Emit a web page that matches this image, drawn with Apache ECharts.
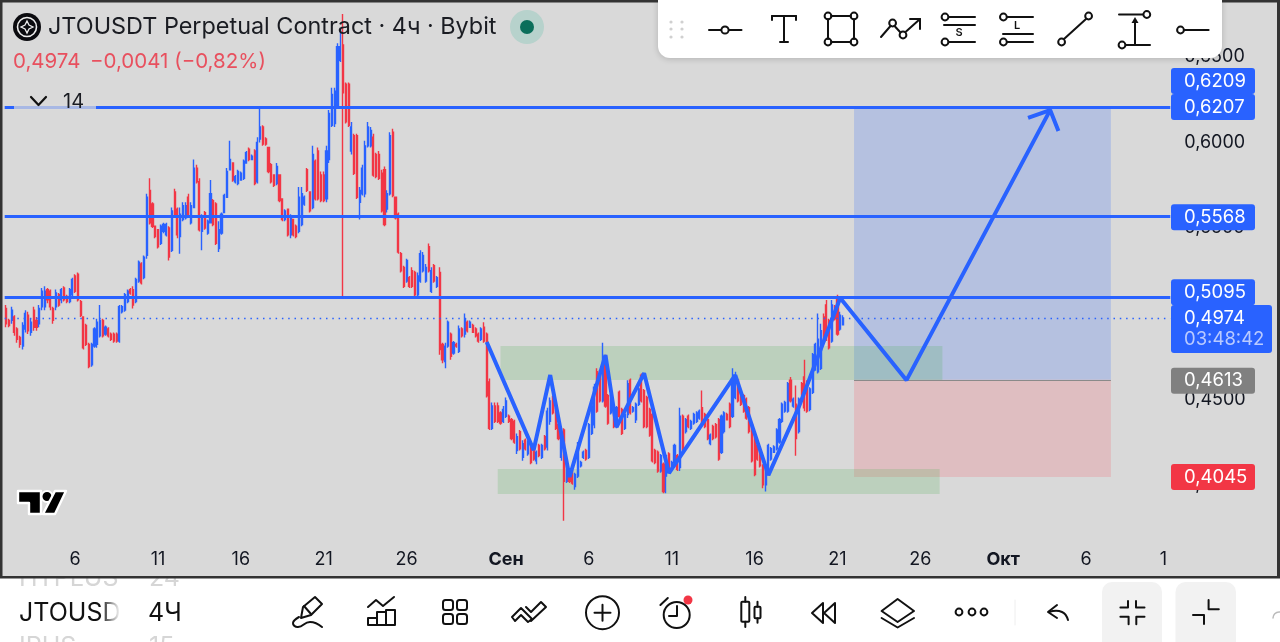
<!DOCTYPE html>
<html><head><meta charset="utf-8">
<style>html,body{margin:0;padding:0;background:#fff}#c{width:1280px;height:642px}</style>
<script src="https://cdn.jsdelivr.net/npm/echarts@6/dist/echarts.min.js"></script>
</head><body><div id="c"></div>
<script>
// candles as [open, close, low, high] (4h bars)
const candlesEarlyAug = [
[.503,.494,.492,.505],[.496,.493,.492,.497],[.496,.502,.494,.504],[.498,.489,.487,.499],[.491,.485,.483,.492],[.486,.482,.480,.487],
[.481,.493,.479,.495],[.491,.500,.489,.502],[.499,.490,.488,.501],[.489,.495,.487,.497],[.502,.492,.490,.504],[.496,.492,.490,.498],
[.494,.503,.492,.505],[.504,.513,.502,.515],[.504,.513,.502,.516],[.514,.508,.506,.515],[.513,.504,.502,.514],[.503,.496,.494,.504],
[.504,.512,.502,.514],[.511,.505,.504,.512],[.508,.514,.506,.515],[.515,.508,.507,.516],[.510,.507,.506,.511],[.507,.514,.506,.515],
[.511,.520,.510,.521],[.522,.513,.512,.523],[.523,.508,.507,.524],[.507,.499,.498,.508],[.498,.480,.479,.498],[.493,.482,.481,.494],
[.482,.469,.468,.483],[.470,.482,.469,.483],[.481,.491,.480,.492],[.482,.495,.480,.497],[.487,.496,.486,.505],[.496,.487,.486,.497],
[.488,.492,.487,.493],[.491,.487,.486,.492],[.488,.485,.484,.489],[.488,.484,.483,.489],[.488,.484,.483,.489],[.484,.504,.483,.505],
[.501,.504,.500,.505],[.502,.511,.501,.512],[.507,.513,.506,.514],[.514,.512,.511,.515],[.514,.505,.503,.516],[.507,.520,.506,.521],
[.519,.530,.518,.531],[.529,.518,.517,.530],[.521,.533,.520,.534]];
const candlesMidAug = [
[.534,.568,.532,.570],[.572,.553,.552,.579],[.564,.551,.550,.565],[.551,.545,.544,.551],[.549,.539,.538,.549],[.541,.551,.540,.552],
[.548,.552,.547,.553],[.546,.552,.545,.553],[.550,.533,.531,.551],[.537,.560,.536,.562],[.571,.558,.557,.573],[.561,.546,.544,.562],
[.545,.558,.535,.562],[.555,.563,.554,.565],[.556,.563,.555,.565],[.568,.558,.557,.570],[.553,.563,.552,.565],[.562,.585,.562,.590],
[.585,.577,.576,.587],[.577,.549,.548,.579],[.548,.556,.537,.558],[.559,.550,.549,.560],[.547,.554,.546,.555],[.553,.570,.553,.578],
[.566,.552,.551,.567],[.564,.541,.540,.565],[.538,.549,.536,.554],[.547,.558,.546,.559],[.559,.569,.559,.570],[.568,.583,.568,.585],
[.584,.590,.584,.601],[.588,.578,.577,.588],[.577,.580,.576,.581],[.576,.583,.575,.584],[.578,.582,.578,.583],[.579,.589,.578,.590],
[.588,.594,.588,.595],[.596,.590,.589,.597],[.590,.592,.590,.593],[.595,.576,.575,.596],[.577,.600,.576,.603],[.602,.609,.600,.621],
[.609,.599,.598,.610],[.602,.599,.598,.603],[.597,.583,.582,.597],[.587,.577,.576,.588],[.581,.575,.574,.581],[.576,.586,.575,.588],
[.581,.566,.565,.581],[.567,.555,.554,.567],[.555,.560,.554,.561],[.561,.546,.545,.561],[.546,.556,.544,.558],[.555,.546,.545,.555],
[.551,.545,.544,.552],[.548,.568,.547,.574]];
const candlesLateAug = [
[.552,.570,.551,.574],[.564,.568,.563,.569],[.584,.572,.571,.585],[.571,.560,.559,.571],[.562,.593,.561,.598],[.589,.567,.566,.590],
[.595,.567,.566,.597],[.581,.566,.565,.583],[.581,.566,.565,.583],[.567,.595,.565,.598],[.590,.617,.588,.619],[.610,.628,.609,.632],
[.611,.630,.609,.632],[.621,.656,.620,.658],[.648,.656,.647,.667],[.657,.629,.5095,.675],[.634,.612,.611,.635],[.634,.610,.609,.635],
[.595,.609,.593,.612],[.604,.582,.581,.605],[.604,.568,.567,.605],[.565,.572,.555,.574],[.570,.585,.569,.587],[.570,.598,.568,.601],
[.598,.609,.597,.612],[.598,.607,.597,.609],[.603,.581,.580,.605],[.593,.580,.579,.594],[.593,.579,.578,.595],[.582,.560,.559,.584],
[.584,.552,.551,.586],[.561,.570,.559,.572],[.570,.604,.569,.606],[.606,.569,.568,.608],[.568,.556,.555,.568],[.558,.536,.535,.559],
[.535,.525,.524,.536],[.527,.516,.515,.528],[.519,.531,.518,.532],[.521,.516,.515,.522],[.525,.516,.515,.527],[.524,.511,.510,.525],
[.511,.522,.510,.524],[.519,.535,.518,.537],[.525,.534,.524,.536],[.519,.527,.518,.529],[.539,.525,.524,.541],[.513,.525,.512,.527],
[.528,.519,.518,.529],[.516,.521,.515,.522],[.524,.479,.476,.527]];
const candlesEarlySep = [
[.482,.473,.471,.483],[.472,.481,.468,.483],[.481,.495,.480,.496],[.488,.475,.473,.489],[.477,.483,.476,.484],[.482,.481,.480,.483],
[.478,.491,.477,.493],[.491,.487,.486,.492],[.488,.497,.486,.500],[.495,.490,.489,.496],[.492,.495,.492,.496],[.493,.489,.489,.494],
[.491,.487,.486,.492],[.488,.484,.483,.489],[.485,.491,.484,.492],[.492,.484,.483,.495],[.488,.452,.451,.489],[.460,.433,.432,.462],
[.433,.446,.432,.448],[.446,.437,.436,.448],[.446,.437,.436,.448],[.442,.436,.435,.443],[.437,.444,.436,.446],[.440,.449,.439,.451],
[.440,.437,.436,.441],[.438,.427,.426,.439],[.437,.425,.424,.438],[.420,.428,.418,.430],[.431,.421,.420,.432],[.416,.424,.414,.426],
[.426,.421,.420,.427],[.418,.425,.417,.426],[.424,.413,.412,.425],[.420,.415,.414,.421],[.414,.419,.412,.420],[.423,.417,.416,.424],
[.416,.423,.415,.424],[.428,.421,.420,.429],[.422,.443,.420,.445],[.437,.449,.435,.451],[.451,.442,.441,.452],[.444,.433,.432,.445],
[.435,.427,.426,.436],[.416,.431,.414,.433],[.432,.402,.379,.433],[.402,.411,.401,.412],[.409,.402,.401,.409],[.408,.401,.400,.408],
[.399,.406,.397,.407],[.405,.423,.404,.425],[.411,.413,.410,.414],[.416,.419,.415,.420],[.420,.415,.414,.421],[.416,.435,.415,.436],
[.430,.446,.429,.448],[.435,.457,.433,.459],[.466,.443,.442,.468]];
const candlesMidSep = [
[.466,.449,.448,.467],[.449,.472,.448,.483],[.475,.446,.445,.476],[.452,.436,.435,.453],[.442,.452,.441,.453],[.445,.434,.433,.446],
[.434,.445,.433,.446],[.454,.440,.439,.455],[.444,.430,.429,.445],[.433,.441,.432,.442],[.441,.459,.439,.461],[.461,.442,.441,.462],
[.443,.445,.442,.446],[.438,.447,.436,.448],[.447,.456,.446,.457],[.464,.449,.448,.465],[.455,.434,.433,.456],[.451,.434,.433,.452],
[.444,.429,.428,.445],[.441,.414,.413,.442],[.420,.413,.412,.421],[.419,.408,.407,.420],[.408,.417,.407,.418],[.412,.396,.395,.413],
[.405,.417,.395,.418],[.418,.408,.407,.419],[.410,.413,.409,.414],[.413,.423,.412,.424],[.417,.409,.408,.418],[.410,.440,.408,.445],
[.440,.421,.420,.441],[.431,.438,.430,.439],[.440,.434,.433,.441],[.433,.437,.432,.438],[.436,.441,.435,.442],[.437,.442,.436,.443],[.439,.443,.438,.444],
[.445,.437,.436,.455],[.441,.434,.433,.442],[.438,.427,.426,.439],[.424,.429,.423,.430],[.434,.427,.426,.435],[.435,.428,.427,.436],
[.438,.415,.414,.439],[.419,.440,.418,.441],[.431,.442,.430,.443],[.441,.438,.438,.442],[.447,.434,.433,.448],[.440,.462,.439,.468],
[.451,.463,.450,.466],[.461,.449,.448,.462],[.453,.447,.446,.454],[.452,.443,.442,.453],[.450,.439,.438,.451],[.445,.431,.430,.446],
[.435,.414,.413,.436],[.427,.406,.405,.428],[.423,.415,.414,.424],[.419,.411,.410,.420],[.411,.400,.398,.412],[.400,.410,.396,.411]];
const candlesLateSep = [
[.408,.423,.407,.424],[.415,.421,.414,.422],[.419,.422,.419,.423],[.421,.432,.420,.433],[.425,.438,.424,.439],[.437,.447,.436,.448],
[.443,.448,.442,.449],[.443,.459,.442,.460],[.461,.449,.448,.463],[.446,.450,.445,.451],[.447,.427,.417,.458],[.431,.450,.430,.451],
[.459,.453,.452,.460],[.463,.445,.443,.473],[.460,.443,.442,.461],[.444,.456,.443,.457],[.454,.476,.453,.477],[.467,.482,.467,.483],
[.466,.485,.465,.500],[.468,.490,.467,.494],[.498,.484,.483,.500],[.505,.485,.484,.508],[.496,.480,.479,.497],[.484,.505,.483,.508],
[.504,.497,.496,.505],[.509,.488,.487,.511],[.491,.499,.490,.501],[.4935,.4974,.493,.499]];

const SLOT_COUNT = 422;
const tickSlots  = [25,55,85,115,145,181,211,241,271,301,331,361,391,419];
const tickLabels = ['6','11','16','21','26','Сен','6','11','16','21','26','Окт','6','1'];
const boldTicks  = ['Сен','Окт'];
const yTicksHidden = [0.35];

const levelSolid = [0.6207, 0.5568, 0.5095];
const lastPrice  = 0.4974;
const zigzagSlots  = [174,191,197,204,217,221,231,240,264,276,287,302,326,378];
const zigzagPrices = [.4834,.4202,.4641,.4045,.4758,.4337,.4652,.4068,.4641,.4056,.4454,.5091,.4611,.6189];
const arrowSlots  = [370,378,381];
const arrowPrices = [.6143,.6189,.6067];
const greenZones = [[179,339,.4810,.4612],[178,338,.4092,.3946]];
const longZone   = [307,400,.6207,.4613];
const shortZone  = [307,400,.4613,.4045];
const priceTags = [
  {t:'0,6209',v:.6207,dy:-26,c:'#2962ff'},{t:'0,6207',v:.6207,dy:0,c:'#2962ff'},
  {t:'0,5568',v:.5568,dy:1,c:'#2962ff'},{t:'0,5095',v:.5095,dy:-5,c:'#2962ff'},
  {t:'0,4613',v:.4613,dy:1,c:'#808080'},{t:'0,4045',v:.4045,dy:0,c:'#f23645'}];

const candles = [].concat(candlesEarlyAug,candlesMidAug,candlesLateAug,candlesEarlySep,candlesMidSep,candlesLateSep);
const categories = Array.from({length:SLOT_COUNT},(_,i)=>String(i));
const BLUE='#2962ff', RED='#f23645', INK='#131722', FF='Inter, "Noto Sans", sans-serif';

const chart = echarts.init(document.getElementById('c'),null,{renderer:'canvas'});
const area=(z,c)=>[{xAxis:z[0],yAxis:z[2],itemStyle:{color:c}},{xAxis:z[1],yAxis:z[3]}];
chart.setOption({
  animation:false, backgroundColor:'#d9d9d9',
  grid:{left:4.7,top:5.5,width:1165.6,height:564.8},
  xAxis:{type:'category',data:categories,boundaryGap:true,
    axisLine:{show:false},axisTick:{show:false},splitLine:{show:false},
    axisLabel:{interval:i=>tickSlots.includes(i),margin:-20,fontFamily:FF,fontSize:18,color:INK,hideOverlap:false,
      formatter:(v)=>{const k=tickSlots.indexOf(+v); if(k<0)return ''; const s=tickLabels[k]; return boldTicks.includes(s)?'{b|'+s+'}':s;},
      rich:{b:{fontWeight:'bold',fontFamily:FF,fontSize:18,color:INK}}}},
  yAxis:{type:'value',position:'right',min:.35,max:.68,interval:.05,
    axisLine:{show:false},axisTick:{show:false},splitLine:{show:false},
    axisLabel:{margin:14,fontFamily:FF,fontSize:18,color:INK,showMaxLabel:false,
      formatter:v=>yTicksHidden.some(h=>Math.abs(h-v)<1e-6)?'':v.toFixed(4).replace('.',',')}},
  series:[
   {type:'candlestick',data:candles,barWidth:1.6,z:3,
    itemStyle:{color:BLUE,color0:RED,borderColor:BLUE,borderColor0:RED,borderWidth:1.4}},
   {type:'line',name:'zones',data:[],z:2,
    markArea:{silent:true,data:[area(longZone,'rgba(41,98,255,.2)'),area(shortZone,'rgba(255,60,80,.17)'),
      area(greenZones[0],'rgba(76,175,80,.2)'),area(greenZones[1],'rgba(76,175,80,.2)')]},
    markLine:{silent:true,symbol:'none',precision:4,label:{show:false},
      data:[[{xAxis:longZone[0],yAxis:longZone[3],lineStyle:{color:'#8a8a8a',width:1,type:'solid'}},{xAxis:longZone[1],yAxis:longZone[3]}]]}},
   {type:'line',name:'levels',data:[],z:6,
    markLine:{silent:true,symbol:'none',precision:4,label:{show:false},animation:false,
      data:levelSolid.map(v=>({yAxis:v,lineStyle:{color:BLUE,width:3,type:'solid'}}))
        .concat([{yAxis:lastPrice,lineStyle:{color:BLUE,width:1.4,type:[1.5,4.8]}}])}},
   {type:'line',name:'zigzag',z:7,symbol:'none',silent:true,
    data:zigzagSlots.map((s,i)=>[s,zigzagPrices[i]]),lineStyle:{color:BLUE,width:4}},
   {type:'line',name:'arrow',z:7,symbol:'none',silent:true,
    data:arrowSlots.map((s,i)=>[s,arrowPrices[i]]),lineStyle:{color:BLUE,width:4}}
  ]
});

const Z=50;
const st=(w,c)=>({stroke:c||'#111',lineWidth:w==null?2:w,fill:'none',lineCap:'round',lineJoin:'round'});
const L=(a,b,c,d,w,col)=>({type:'line',z:Z,silent:true,shape:{x1:a,y1:b,x2:c,y2:d},style:st(w,col)});
const C=(x,y,r,w,col,fill)=>({type:'circle',z:Z,silent:true,shape:{cx:x,cy:y,r},style:Object.assign(st(w,col),{fill:fill||'none'},w===0?{stroke:'none'}:{})});
const R=(x,y,w,h,r,fill,extra,z)=>({type:'rect',z:z||Z,silent:true,shape:{x,y,width:w,height:h,r},style:Object.assign({fill},extra||{})});
const RS=(x,y,w,h,r,lw)=>({type:'rect',z:Z,silent:true,shape:{x,y,width:w,height:h,r},style:st(lw||2)});
const P=(pts,w,col,smooth)=>({type:'polyline',z:Z,silent:true,shape:{points:pts,smooth:smooth||0},style:st(w,col)});
const G=(pts,fill,extra)=>({type:'polygon',z:Z,silent:true,shape:{points:pts},style:Object.assign({fill},extra||{})});
const T=(x,y,text,size,fill,o)=>({type:'text',z:Z+1,silent:true,x,y,style:Object.assign({text,fill:fill||INK,font:`${(o&&o.w)||400} ${size}px ${FF}`,textAlign:(o&&o.a)||'left',textVerticalAlign:'middle'})});

const g=[];
// price tags
priceTags.forEach(p=>{const y=chart.convertToPixel({yAxisIndex:0},p.v)+p.dy;
  g.push(R(1171,y-13,84,26,3,p.c)); g.push(T(1184,y,p.t,18.5,'#fff'));});
{const y=chart.convertToPixel({yAxisIndex:0},lastPrice);
 g.push(R(1171,y-13,101,48,3,BLUE)); g.push(T(1184,y,'0,4974',18.5,'#fff')); g.push(T(1184,y+21,'03:48:42',18.5,'#b9caff'));}
// header
g.push(C(27,27,14,0,'#000','#0b0b0f'));
g.push(C(27,27,9.5,1.6,'#eee'));
g.push(G([[27,21],[29,25],[33,27],[29,29],[27,33],[25,29],[21,27],[25,25]],'none',{stroke:'#eee',lineWidth:1.3}));
g.push(T(48,26.5,'JTOUSDT Perpetual Contract · 4ч · Bybit',23.4,'#1a1c22'));
g.push(C(527,27,17,0,'#000','#b7d2cc')); g.push(C(527,27,7,0,'#000','#0b6e5a'));
g.push(T(13,62,'0,4974',20.5,'#e8505e')); g.push(T(90,62,'−0,0041 (−0,82%)',20.5,'#e8505e'));
g.push(R(14,104,82,6,0,'rgba(217,217,217,.72)'));
g.push(P([[31,97],[38.5,105],[46,97]],2.2,'#111')); g.push(T(63,102,'14',20,'#1a1c22'));
// watermark
const wm={stroke:'#fff',lineWidth:2.4,lineJoin:'round'};
g.push(G([[18,491],[41,491],[41,514],[29,514],[29,503],[18,503]],'#000',wm));
g.push(C(47,496.5,5.5,2,'#fff','#000'));
g.push(G([[55,491],[66,491],[55,514],[43,514]],'#000',wm));
// top toolbar
g.push(R(658,-12,564,70,12,'#fff',{shadowBlur:6,shadowColor:'rgba(0,0,0,.18)',shadowOffsetY:1}));
[671,682].forEach(x=>[22,29,37].forEach(y=>g.push(C(x,y,1.6,0,'#000','#d0d0d0'))));
g.push(L(709,30,721,30,2),L(729,30,741.5,30,2),C(725,30,3.6,2));
g.push(L(772,16,796,16,2),L(772,16,772,20,2),L(796,16,796,20,2),L(784,16,784,42,2),L(780,42,788,42,2));
g.push(L(831,16,851,16,2),L(831,42,851,42,2),L(828,19,828,39,2),L(854,19,854,39,2));
[[828,16],[854,16],[828,42],[854,42]].forEach(c=>g.push(C(c[0],c[1],3.4,2)));
g.push(L(881,37,890.5,26,2),L(895,26.5,900.5,32.5,2),L(905.5,32,920,19,2),P([[910,19],[920,19],[920,29]],2));
g.push(C(892.6,23,3.4,2),C(903,35,3.4,2));
g.push(L(949,17,975,17,2),L(944,25,975,25,2),L(949,42,975,42,2),C(945,17,3.4,2),C(945,42,3.4,2),T(959,33,'S',11,'#111',{a:'center',w:600}));
g.push(L(1007,17,1033,17,2),L(1003,34,1033,34,2),L(1007,42,1033,42,2),C(1003.4,17,3.4,2),C(1003.4,42,3.4,2),T(1017,26,'L',11,'#111',{a:'center',w:600}));
g.push(L(1064,39,1086,19,2),C(1061.6,42,3.4,2),C(1088.6,16,3.4,2));
g.push(L(1119,14.5,1143,14.5,2),C(1146.8,14.5,3.4,2),L(1135,45,1135,20,2),G([[1135,17],[1131.5,23],[1138.5,23]],'#111'),L(1126,45,1150,45,2),C(1122,45,3.4,2));
g.push(C(1180.5,30,3.4,2),L(1184,30,1208.6,30,2));
// bottom bar
g.push(R(0,578,1280,64,0,'#fff'));
g.push(T(19,578,'HTPLUS',25,'#d6d6d6'),T(149,578,'24',25,'#d6d6d6'));
g.push(T(19,647,'IPUS',25,'#d6d6d6'),T(149,647,'15',25,'#d6d6d6'));
g.push(T(19,613,'JTOUSD',25,'#111'),T(148,613,'4Ч',25,'#111'));
g.push({type:'rect',z:Z+2,silent:true,shape:{x:100,y:598,width:24,height:30},style:{fill:new echarts.graphic.LinearGradient(0,0,1,0,[{offset:0,color:'rgba(255,255,255,0)'},{offset:.85,color:'#fff'},{offset:1,color:'#fff'}])}});
g.push(G([[301,618],[303,607],[315,597],[322,604],[311,615]],'none',Object.assign(st(2))),P([[299,617],[293,623],[298,627],[310,622],[322,627]],2,'#111',.5),L(304,606,311,614,2));
g.push(P([[368,607],[376,600],[383,606],[394,597]],2),RS(368,618,9,7,0),RS(377,612,9,13,0),RS(386,610,9,15,0));
[[443,600],[457,600],[443,614],[457,614]].forEach(c=>g.push(RS(c[0],c[1],10,10,2.5)));
g.push(P([[512,617],[521,608],[532,619],[528,622],[521,615],[515,621],[512,617]],2));
g.push(P([[526,607],[531,612],[541,602],[546,607],[531,621]],2));
g.push(C(602.5,612.7,16.5,2),L(594.5,612.7,610.5,612.7,2),L(602.5,604.7,602.5,620.7,2));
g.push(C(676.7,615,13,2),P([[677,606],[677,616],[669,616]],2),L(660.4,605,667.8,598,2),C(688,600,4.5,0,'#000',RED));
g.push(RS(741.3,601.7,8,20,1),L(745.3,597,745.3,601.7,2),L(745.3,621.7,745.3,627,2),RS(754.5,606.7,6,11.5,1),L(757.5,601.7,757.5,606.7,2),L(757.5,618.2,757.5,622.7,2));
g.push(G([[823,603],[812,613],[823,623]],'none',st(2)),G([[835,603],[824,613],[835,623]],'none',st(2)));
g.push(G([[897.6,599],[914,611],[897.6,622],[881.6,611]],'none',st(2)),P([[881.6,618],[897.6,627.5],[914,618]],2));
[959,972,984].forEach(x=>g.push(C(x,612,3.4,2)));
g.push(L(1015,600,1015,625,1,'#eee'));
g.push(P([[1057,605],[1048,612],[1057,618]],2),P([[1049,612],[1062,612],[1068,620]],2,'#111',.5));
g.push(R(1102,582,60,70,10,'#f2f2f2'),R(1175.5,582,60.5,70,10,'#f2f2f2'));
g.push(P([[1120.4,607.6],[1128,607.6],[1128,601]],2),P([[1136,601],[1136,607.6],[1144.5,607.6]],2),P([[1120.4,616.7],[1128.6,616.7],[1128.6,624.3]],2),P([[1144.5,616.7],[1136.3,616.7],[1136.3,624.3]],2));
g.push(P([[1208.6,600],[1208.6,609.3],[1218.8,609.3]],2),P([[1193,615],[1204,615],[1204,624]],2));
g.push({type:'arc',z:Z,silent:true,shape:{cx:1279,cy:618,r:6,startAngle:Math.PI,endAngle:Math.PI*1.6},style:st(1.5,'#bbb')});
// ghost-row cover and frame
g.push(R(3,566,1274,10,0,'#d9d9d9',null,Z+3));
g.push(R(0,0,2.5,578,0,'#333',null,Z+3),R(0,0,658,2.5,0,'#333',null,Z+3),R(1222,0,58,2.5,0,'#333',null,Z+3),R(1277,0,3,578,0,'#333',null,Z+3),R(0,576,1280,2.5,0,'#333',null,Z+3));
chart.setOption({graphic:{elements:g}});
</script></body></html>
